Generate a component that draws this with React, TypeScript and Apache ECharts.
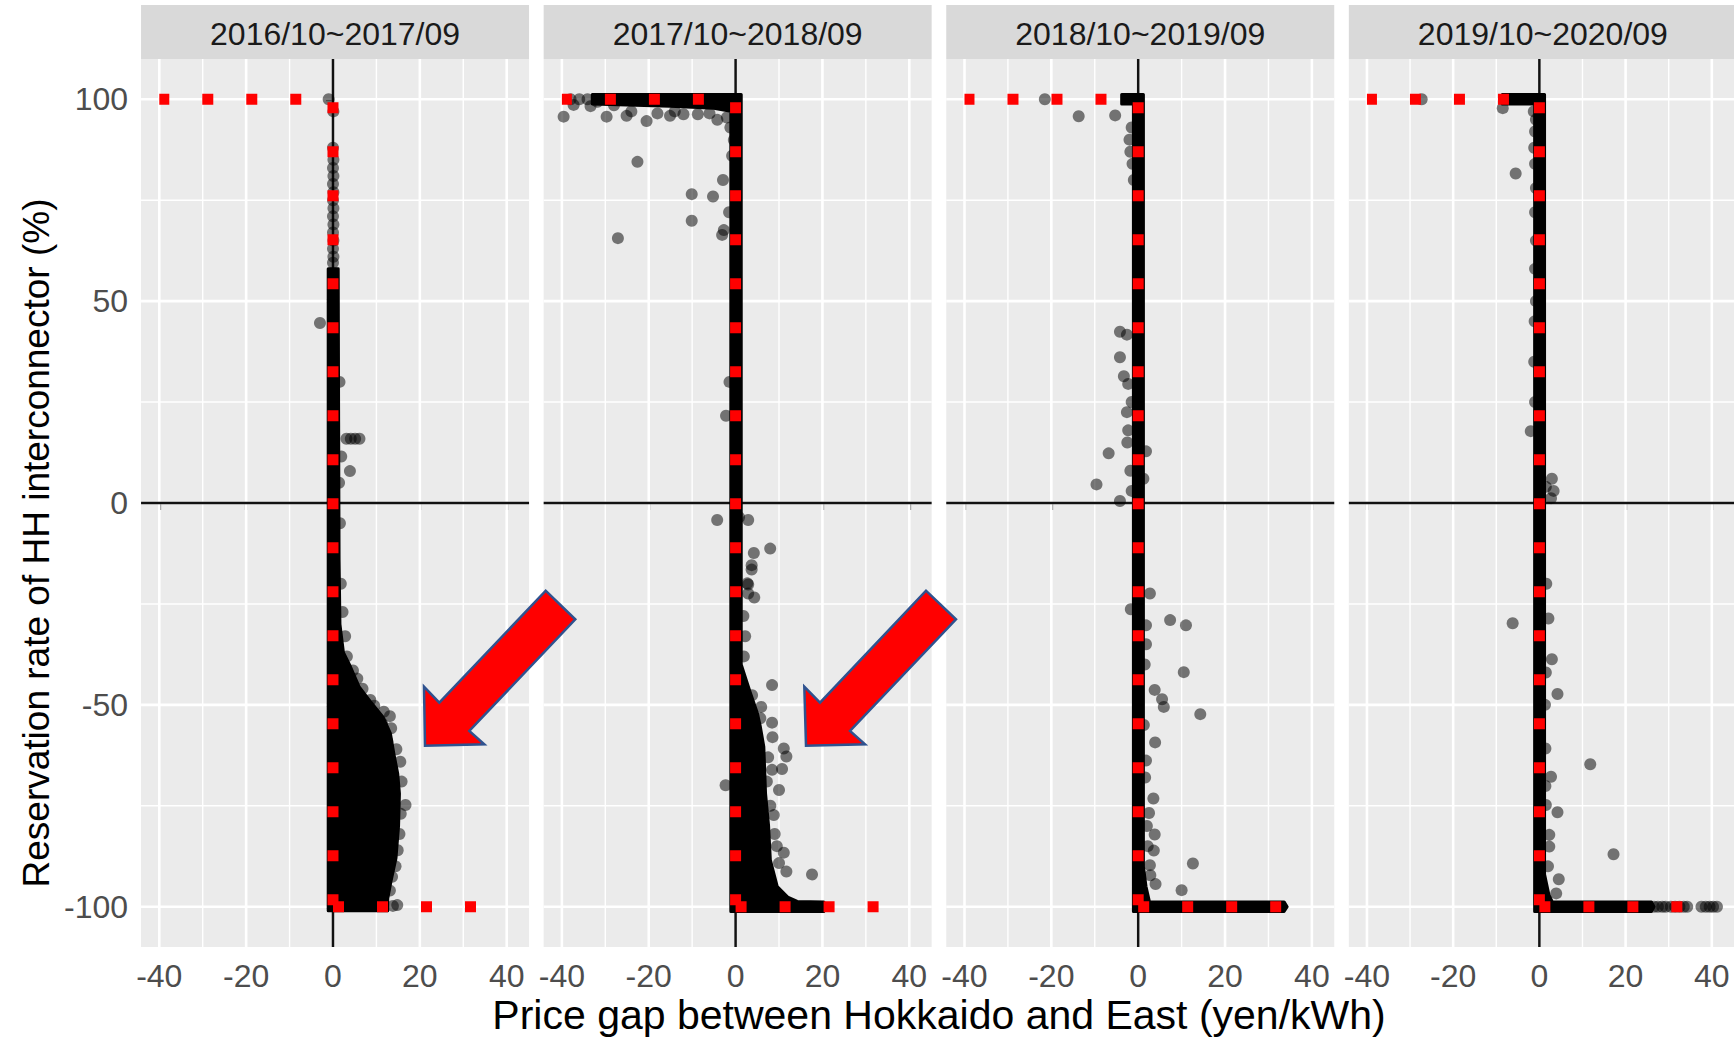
import React, { useEffect, useRef } from "react";
import * as echarts from "echarts";

// ---------- data ----------
const periods = ["2016/10~2017/09", "2017/10~2018/09", "2018/10~2019/09", "2019/10~2020/09"];
const xTitle = "Price gap between Hokkaido and East (yen/kWh)";
const yTitle = "Reservation rate of HH interconnector (%)";

const X_MIN = -44.2;
const X_MAX = 45.15;
const Y_MIN = -110;
const Y_MAX = 110;

const xMajor = [-40, -20, 0, 20, 40];
const xMinor = [-30, -10, 10, 30];
const yMajor = [-100, -50, 0, 50, 100];
const yMinor = [-75, -25, 25, 75];
const zeroX = [0];
const zeroY = [0];

// theoretical (step) line, drawn as three dotted segments
const supplyTop = [[-40, 100], [0, 100]];
const supplyVertical = [[0, 100], [0, -100]];
const supplyBottom = [[0, -100], [40, -100]];

// outlines of the fully over-plotted (solid black) regions, in data units
const dense1 = [[-1.1, 58], [1.2, 58], [1.3, 20], [1.4, -14], [1.6, -30], [2.4, -37], [4.0, -40.5], [6.0, -45.5], [8.5, -49], [11.5, -53], [13.2, -57], [14.0, -62], [14.9, -67], [15.3, -72], [15.1, -80], [14.5, -88], [13.3, -94], [12.6, -98], [12.6, -101], [-1.1, -101]];
const dense2 = [[-33, 101.2], [1.3, 101.2], [1.3, -40], [2.5, -44], [3.4, -47], [5.0, -52], [5.7, -55.4], [6.5, -60.4], [6.9, -72], [7.6, -80], [8.0, -88.4], [9.6, -95], [12, -97.6], [14.2, -98.7], [20.3, -98.8], [20.8, -100], [20.3, -101.2], [-1.1, -101.2], [-1.1, 97], [-5, 97.8], [-15, 98.3], [-25, 98.6], [-33, 98.8]];
const dense3 = [[-3.8, 101.2], [1.2, 101.2], [1.2, -90], [1.8, -95], [2.6, -98.8], [33.6, -98.8], [34.3, -100], [33.6, -101.2], [-1.1, -101.2], [-1.1, 98.8], [-3.8, 98.8]];
const dense4 = [[-8.6, 101.2], [1.2, 101.2], [1.2, -92], [2.2, -97], [3.0, -98.8], [26, -98.8], [26.6, -100], [26, -101.2], [-1.1, -101.2], [-1.1, 98.8], [-8.6, 98.8]];

// individual (semi-transparent) observations
const points1 = [
  [-1, 100], [0.1, 97], [0, 88], [0.1, 85], [0, 83], [0.1, 81], [0, 79], [0.1, 77], [0, 75], [0.1, 73], [0, 71], [0.1, 69], [0, 67], [0.1, 65], [0, 63], [0.1, 61], [0, 59.5],
  [-3, 44.6], [3.1, 15.9], [4.1, 15.9], [5.1, 15.9], [6.1, 15.9], [1.9, 11.5], [3.9, 7.9], [1.5, 30], [1.4, 5], [1.6, -5], [1.8, -20], [2.2, -27], [2.8, -33],
  [3.2, -38], [4.6, -41.5], [5.6, -43.5], [6.8, -46], [8.6, -48.8], [6.7, -52.9], [9.5, -50.2], [11.3, -54.6], [11.7, -51.7], [13.1, -52.8], [13.4, -55.8],
  [12.5, -59], [14.6, -61], [15.5, -64.1], [15.8, -69], [16.7, -74.8], [15.6, -77], [15.3, -82], [14.9, -86], [14.4, -90], [13.6, -92.6], [13.1, -96],
  [14.8, -99.6], [13.8, -99.8],
];
const points2 = [
  [-39.6, 95.7], [-38, 100], [-37.3, 98.6], [-36, 100], [-34.1, 100], [-33.4, 98.3], [-31.8, 99.4], [-29.7, 95.7], [-28, 98.5], [-25.1, 95.9], [-24, 97],
  [-22.6, 84.5], [-20.5, 94.6], [-18, 96.5], [-15.1, 95.9], [-14, 97], [-12, 96.3], [-8.7, 96.3], [-6, 96.5], [-4.2, 94.9], [-2, 95.5], [-1.2, 93],
  [-27.1, 65.6], [-10.1, 76.5], [-5.2, 75.9], [-2.9, 80], [-10.1, 69.9], [-3.1, 66.4], [-2.7, 67.6], [-0.4, 89.9], [-0.8, 86], [-1.5, 72],
  [-2.2, 21.6], [-1.4, 30], [-4.24, -4.2], [2.9, -4.2], [0.8, -3.5], [4.2, -12.4], [7.97, -11.3], [3.7, -16.5], [2.9, -20.2], [4.3, -23.4], [3.7, -15.4],
  [2.7, -19.9], [2.9, -22.4], [1.8, -28], [2.2, -33], [1.9, -38],
  [8.4, -45.1], [3.8, -47.6], [5.9, -50.5], [5.7, -53.3], [8.4, -54.4], [-2.3, -69.9], [11.1, -60.8], [11.7, -62.8], [10.7, -65.9], [8.4, -66.1],
  [10, -71.1], [8.8, -77.3], [11.1, -86.6], [11.7, -91.3], [17.6, -92], [10, -89.2], [7.5, -63], [8.5, -58], [8, -75], [9, -82], [9.5, -85], [7.2, -69],
];
const points3 = [
  [-21.5, 100], [-13.7, 95.8], [-5.3, 96], [-1.5, 93], [-2, 90], [-1.8, 87], [-1.3, 84], [-1, 80],
  [-4.2, 42.4], [-2.6, 41.7], [-4.2, 36.1], [-3.3, 31.4], [-2.3, 29.5], [-2.6, 22.5], [-2.3, 18], [-1.5, 25], [-2.5, 15],
  [-6.8, 12.3], [-9.6, 4.6], [-4.2, 0.5], [1.8, 12.8], [-1.8, 8], [-1.5, 3], [1.2, 6],
  [2.7, -22.4], [-1.7, -26.3], [7.35, -29], [11, -30.3], [1.8, -30.3], [1.8, -35], [10.5, -41.9], [1.5, -40], [3.8, -46.3], [5.5, -48.6], [5.9, -50.5],
  [14.3, -52.3], [1.3, -55], [3.9, -59.3], [1.8, -63.8], [1.6, -68], [3.5, -73.2], [2.5, -76.8], [2, -80], [3.8, -82.1], [2.2, -85], [3.6, -86.1],
  [12.6, -89.3], [2.7, -89.7], [2.8, -92.2], [4.0, -94.4], [10, -95.9],
];
const points4 = [
  [-27.3, 100], [-8.5, 97.8], [-1.3, 97], [-0.8, 95], [-1, 92], [-1.2, 88], [-1, 84], [-5.5, 81.6], [-0.8, 78], [-1, 72], [-0.8, 65], [-1, 58], [-0.8, 50],
  [-1.1, 45], [-1.2, 35], [-1, 25], [-2, 17.8], [2.9, 6], [3.3, 3], [2.7, 1.2], [1.5, 4],
  [1.6, -20], [-6.2, -29.8], [2.1, -28.6], [2.9, -38.7], [1.5, -42], [4.2, -47.3], [1.3, -50], [1.4, -60.8], [11.8, -64.7], [2.7, -67.8], [1.4, -70.1],
  [1.5, -74.8], [4.2, -76.6], [2.3, -82.2], [2.3, -85.1], [17.2, -87], [2, -90], [4.5, -93.2], [3.9, -96.7],
  [26.6, -100], [27.5, -100], [28.5, -100], [29.3, -100], [30.5, -100], [31.5, -100], [32.5, -100], [33.5, -100], [34.3, -100],
  [37.6, -100], [38.6, -100], [39.5, -100], [40.3, -100], [41.2, -100],
];

const denseRegions = [dense1, dense2, dense3, dense4];
const panelPoints = [points1, points2, points3, points4];

// ---------- layout / style ----------
const FONT = '"Liberation Sans", Arial, sans-serif';
const PANEL_LEFT0 = 141.05;
const PANEL_STEP = 402.6;
const PANEL_W = 388;
const PANEL_TOP = 58.9;
const PANEL_H = 888.2;
const STRIP_TOP = 5;

const arrow1 = [[425, 745.7], [424, 686.7], [439.3, 702.7], [545.7, 590.7], [575.3, 619.3], [469.3, 731], [484.3, 744.3]];
const arrow2 = [[806, 745.7], [804.3, 686.7], [820, 702.7], [926, 590.7], [956, 619.3], [850, 731], [865, 744.3]];

function vLineSeries(values: number[], i: number, color: string, width: number, z: number) {
  return {
    type: "custom",
    xAxisIndex: i,
    yAxisIndex: i,
    z,
    silent: true,
    data: values.map((v) => [v, 0]),
    renderItem: (_p: any, api: any) => {
      const a = api.coord([api.value(0), Y_MIN]);
      const b = api.coord([api.value(0), Y_MAX]);
      return { type: "line", shape: { x1: a[0], y1: a[1], x2: b[0], y2: b[1] }, style: { stroke: color, lineWidth: width } };
    },
  };
}
function hLineSeries(values: number[], i: number, color: string, width: number, z: number) {
  return {
    type: "custom",
    xAxisIndex: i,
    yAxisIndex: i,
    z,
    silent: true,
    data: values.map((v) => [0, v]),
    renderItem: (_p: any, api: any) => {
      const a = api.coord([X_MIN, api.value(1)]);
      const b = api.coord([X_MAX, api.value(1)]);
      return { type: "line", shape: { x1: a[0], y1: a[1], x2: b[0], y2: b[1] }, style: { stroke: color, lineWidth: width } };
    },
  };
}
function redSeries(data: number[][], i: number, offset: number) {
  return {
    type: "line",
    xAxisIndex: i,
    yAxisIndex: i,
    z: 6,
    silent: true,
    symbol: "none",
    data,
    lineStyle: { color: "#ff0000", width: 11, type: [11, 33], dashOffset: offset, cap: "butt" },
  };
}

function buildOption() {
  const grid: any[] = [];
  const xAxis: any[] = [];
  const yAxis: any[] = [];
  const series: any[] = [];
  const graphic: any[] = [];

  periods.forEach((label, i) => {
    const left = PANEL_LEFT0 + PANEL_STEP * i;
    grid.push({ left, top: PANEL_TOP, width: PANEL_W, height: PANEL_H, show: true, backgroundColor: "#ebebeb", borderWidth: 0 });
    xAxis.push({
      type: "value",
      gridIndex: i,
      min: X_MIN,
      max: X_MAX,
      axisLine: { show: false },
      splitLine: { show: false },
      axisTick: { show: true, customValues: xMajor, length: 7, lineStyle: { color: "#333333", width: 2.2 } },
      axisLabel: { show: true, customValues: xMajor, color: "#4d4d4d", fontSize: 32, fontFamily: FONT, margin: 13 },
    });
    yAxis.push({
      type: "value",
      gridIndex: i,
      min: Y_MIN,
      max: Y_MAX,
      axisLine: { show: false },
      splitLine: { show: false },
      axisTick: { show: i === 0, customValues: yMajor, length: 7, lineStyle: { color: "#333333", width: 2.2 } },
      axisLabel: { show: i === 0, customValues: yMajor, color: "#4d4d4d", fontSize: 32, fontFamily: FONT, margin: 13 },
    });

    series.push(vLineSeries(xMinor, i, "#ffffff", 1.4, 1));
    series.push(hLineSeries(yMinor, i, "#ffffff", 1.4, 1));
    series.push(vLineSeries(xMajor, i, "#ffffff", 2.6, 1));
    series.push(hLineSeries(yMajor, i, "#ffffff", 2.6, 1));
    series.push(vLineSeries(zeroX, i, "#111111", 2.5, 2));
    series.push(hLineSeries(zeroY, i, "#111111", 2.5, 2));

    const poly = denseRegions[i];
    series.push({
      type: "custom",
      xAxisIndex: i,
      yAxisIndex: i,
      z: 3,
      silent: true,
      data: [[0, 0]],
      renderItem: (_p: any, api: any) => ({
        type: "polygon",
        shape: { points: poly.map((p) => api.coord(p)) },
        style: { fill: "#000000", stroke: "#000000", lineWidth: 3, lineJoin: "round" },
      }),
    });
    series.push({
      type: "scatter",
      xAxisIndex: i,
      yAxisIndex: i,
      z: 4,
      silent: true,
      symbol: "circle",
      symbolSize: 12,
      data: panelPoints[i],
      itemStyle: { color: "rgba(0,0,0,0.64)" },
    });
    series.push(redSeries(supplyTop, i, 1));
    series.push(redSeries(supplyVertical, i, 40.5));
    series.push(redSeries(supplyBottom, i, 0));

    graphic.push({
      type: "rect",
      shape: { x: left, y: STRIP_TOP, width: PANEL_W, height: PANEL_TOP - STRIP_TOP },
      style: { fill: "#d9d9d9" },
      silent: true,
      z: 10,
    });
    graphic.push({
      type: "text",
      x: left + PANEL_W / 2,
      y: 34,
      style: { text: label, fill: "#1a1a1a", fontSize: 32, fontFamily: FONT, align: "center", verticalAlign: "middle" },
      silent: true,
      z: 11,
    });
  });

  graphic.push({
    type: "text",
    x: 939,
    y: 1015,
    style: { text: xTitle, fill: "#000000", fontSize: 41, fontFamily: FONT, align: "center", verticalAlign: "middle" },
    silent: true,
    z: 11,
  });
  graphic.push({
    type: "text",
    x: 36,
    y: 543,
    rotation: Math.PI / 2,
    style: { text: yTitle, fill: "#000000", fontSize: 37, fontFamily: FONT, align: "center", verticalAlign: "middle" },
    silent: true,
    z: 11,
  });
  [arrow1, arrow2].forEach((pts) => {
    graphic.push({
      type: "polygon",
      shape: { points: pts },
      style: { fill: "#ff0000", stroke: "#2f528f", lineWidth: 2.5, lineJoin: "miter" },
      silent: true,
      z: 100,
    });
  });

  return {
    animation: false,
    backgroundColor: "#ffffff",
    grid,
    xAxis,
    yAxis,
    series,
    graphic,
  };
}

export default function App() {
  const ref = useRef<HTMLDivElement>(null);
  useEffect(() => {
    if (!ref.current) return;
    const chart = echarts.init(ref.current, null, { renderer: "svg" });
    chart.setOption(buildOption() as any);
    return () => chart.dispose();
  }, []);
  return (
    <div
      ref={ref}
      style={{ position: "fixed", left: 0, top: 0, width: 1734, height: 1039, background: "#ffffff" }}
    />
  );
}
